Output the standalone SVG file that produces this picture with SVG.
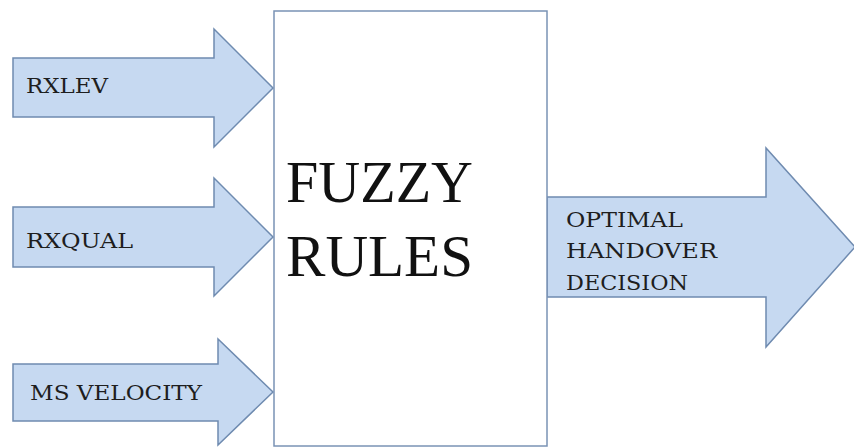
<svg xmlns="http://www.w3.org/2000/svg" width="854" height="447" viewBox="0 0 854 447">
<style>
.arr{fill:#c6d9f1;stroke:#6f8bb0;stroke-width:1.5;stroke-linejoin:miter}
.box{fill:#ffffff;stroke:#7a93b5;stroke-width:1.5}
.lbl{font-family:"DejaVu Serif","Liberation Serif",serif;font-size:20.5px;fill:#1e1e1e}
.big{font-family:"Liberation Serif","Times New Roman",serif;font-size:60px;fill:#111}
</style>
<rect width="854" height="447" fill="#ffffff"/>
<g id="connectors">
<g id="in-rxlev"><polygon class="arr" points="13,58 214,58 214,29 273,88 214,147 214,117 13,117"/><text class="lbl" x="26" y="93" textLength="82" lengthAdjust="spacingAndGlyphs">RXLEV</text></g>
<g id="in-rxqual"><polygon class="arr" points="13,207 214,207 214,178 273,237 214,296 214,267 13,267"/><text class="lbl" x="26" y="248" textLength="107" lengthAdjust="spacingAndGlyphs">RXQUAL</text></g>
<g id="in-velocity"><polygon class="arr" points="13,364 218,364 218,339 273,392 218,445 218,421 13,421"/><text class="lbl" x="30" y="400" textLength="172" lengthAdjust="spacingAndGlyphs">MS VELOCITY</text></g>
<g id="out-decision"><polygon class="arr" points="547,197 766,197 766,148 855,247 766,347 766,297 547,297"/>
<text class="lbl" x="566" y="227" textLength="117" lengthAdjust="spacingAndGlyphs">OPTIMAL</text>
<text class="lbl" x="566" y="258" textLength="151" lengthAdjust="spacingAndGlyphs">HANDOVER</text>
<text class="lbl" x="566" y="290" textLength="122" lengthAdjust="spacingAndGlyphs">DECISION</text></g>
</g>
<g id="fuzzy-rules">
<rect class="box" x="274" y="11" width="273" height="435"/>
<text class="big" x="286" y="202" textLength="187" lengthAdjust="spacingAndGlyphs">FUZZY</text>
<text class="big" x="286" y="276" textLength="187" lengthAdjust="spacingAndGlyphs">RULES</text>
</g>
</svg>
